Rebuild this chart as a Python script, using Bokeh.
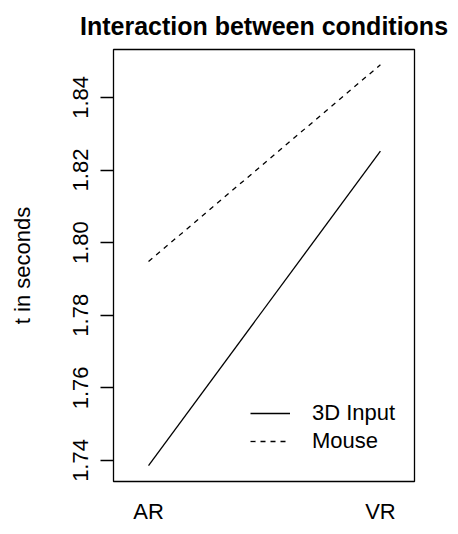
from bokeh.plotting import figure
from bokeh.models import Range1d, FixedTicker, PrintfTickFormatter
from bokeh.embed import file_html
from bokeh.resources import INLINE

# ---- data ----
conditions = ["AR", "VR"]
input_3d = [1.7386, 1.8252]
mouse = [1.7948, 1.8490]
y_ticks = [1.74, 1.76, 1.78, 1.80, 1.82, 1.84]
series_names = ["3D Input", "Mouse"]

x_pos = list(range(1, len(conditions) + 1))
FONT = "Liberation Sans"

p = figure(width=450, height=526, output_backend="svg", toolbar_location=None,
           x_range=Range1d(0.849, 2.147), y_range=Range1d(1.7342, 1.8532),
           min_border_left=113, min_border_right=36, min_border_top=48,
           min_border_bottom=45)

p.title.text = "Interaction between conditions"
p.title.align = "center"
p.title.text_font = FONT
p.title.text_font_size = "25px"
p.title.text_font_style = "bold"
p.title.text_color = "black"
p.title.standoff = 19

p.grid.visible = False
p.outline_line_color = "black"
p.outline_line_width = 1.3
p.background_fill_color = "white"
p.border_fill_color = "white"

# x axis
xa = p.xaxis[0]
xa.ticker = FixedTicker(ticks=x_pos)
xa.major_label_overrides = {x: c for x, c in zip(x_pos, conditions)}
xa.axis_line_color = None
xa.major_tick_line_color = None
xa.minor_tick_line_color = None
xa.major_label_standoff = 11
xa.major_label_text_font = FONT
xa.major_label_text_font_size = "22px"
xa.major_label_text_color = "black"

# y axis
ya = p.yaxis[0]
ya.ticker = FixedTicker(ticks=y_ticks)
ya.formatter = PrintfTickFormatter(format="%.2f")
ya.axis_line_color = None
ya.major_tick_out = 13
ya.major_tick_in = 0
ya.major_tick_line_color = "black"
ya.major_tick_line_width = 1.3
ya.minor_tick_line_color = None
ya.major_label_orientation = "vertical"
ya.major_label_standoff = 12
ya.major_label_text_font = FONT
ya.major_label_text_font_size = "22px"
ya.major_label_text_color = "black"
ya.axis_label = "t in seconds"
ya.axis_label_text_font = FONT
ya.axis_label_text_font_size = "22px"
ya.axis_label_text_font_style = "normal"
ya.axis_label_text_color = "black"
ya.axis_label_standoff = 36

p.line(x_pos, input_3d, line_color="black", line_width=1.3, legend_label=series_names[0])
p.line(x_pos, mouse, line_color="black", line_width=1.3, line_dash="5 5", legend_label=series_names[1])

lg = p.legend[0]
lg.location = (137, 26)
lg.border_line_color = None
lg.background_fill_alpha = 0
lg.padding = 0
lg.margin = 0
lg.spacing = 0
lg.glyph_width = 40
lg.glyph_height = 28
lg.label_height = 28
lg.label_standoff = 22
lg.label_text_font = FONT
lg.label_text_font_size = "22px"
lg.label_text_color = "black"

open("out.html", "w").write(file_html(p, INLINE))
